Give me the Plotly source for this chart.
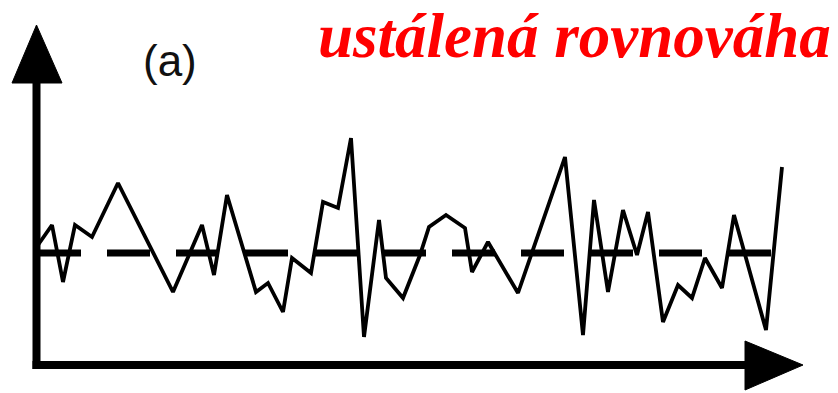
import plotly.graph_objects as go

# time index and deviation from equilibrium (schematic units)
t = [38, 52, 63, 75, 92, 118, 173, 202, 214, 227, 256, 268, 283, 292, 311, 323, 338, 351,
     364, 379, 386, 403, 420, 429, 446, 465, 472, 488, 518, 565, 583, 594, 608, 623, 637,
     648, 663, 678, 692, 705, 722, 734, 766, 782]
values = [8, 28, -29, 28, 16, 70, -39, 28, -22, 58, -39, -30, -59, -5, -20, 51, 45, 115,
          -84, 33, -25, -45, -2, 26, 38, 25, -19, 11, -40, 96, -82, 53, -39, 43, -2,
          41, -69, -32, -45, -5, -35, 38, -77, 86]
equilibrium_t = [38, 772]
equilibrium_v = [0, 0]
title_text = "ustálená rovnováha"
panel_label = "(a)"

fig = go.Figure()
fig.add_trace(go.Scatter(x=equilibrium_t, y=equilibrium_v, mode="lines",
                         line=dict(color="black", width=7, dash="43px,26px"),
                         hoverinfo="skip", showlegend=False))
fig.add_trace(go.Scatter(x=t, y=values, mode="lines",
                         line=dict(color="black", width=3.8),
                         showlegend=False))

shapes = [
    # vertical axis
    dict(type="line", xref="x", yref="y", x0=36.5, x1=36.5, y0=253 - 369, y1=253 - 75,
         line=dict(color="black", width=8)),
    dict(type="path", xref="x", yref="y",
         path=f"M 12 {253-83} L 62 {253-83} L 36.5 {253-25} Z",
         fillcolor="black", line=dict(color="black", width=1)),
    # horizontal axis
    dict(type="line", xref="x", yref="y", x0=32.5, x1=750, y0=253 - 365, y1=253 - 365,
         line=dict(color="black", width=8)),
    dict(type="path", xref="x", yref="y",
         path=f"M 745 {253-341} L 745 {253-390} L 803 {253-365} Z",
         fillcolor="black", line=dict(color="black", width=1)),
]

fig.update_layout(
    width=838, height=393,
    margin=dict(l=0, r=0, t=0, b=0),
    paper_bgcolor="white", plot_bgcolor="white",
    xaxis=dict(range=[0, 838], visible=False, fixedrange=True),
    yaxis=dict(range=[253 - 393, 253], visible=False, fixedrange=True),
    shapes=shapes,
    annotations=[
        dict(x=833, y=253 - 35.5, xref="x", yref="y", xanchor="right", yanchor="middle",
             text=f"<b><i>{title_text}</i></b>", showarrow=False,
             font=dict(family="Liberation Serif", size=63, color="#ff0000")),
        dict(x=170, y=253 - 60, xref="x", yref="y", xanchor="center", yanchor="middle",
             text=panel_label, showarrow=False,
             font=dict(family="Liberation Sans", size=44, color="#111111")),
    ],
)

fig.write_html("out.html")
